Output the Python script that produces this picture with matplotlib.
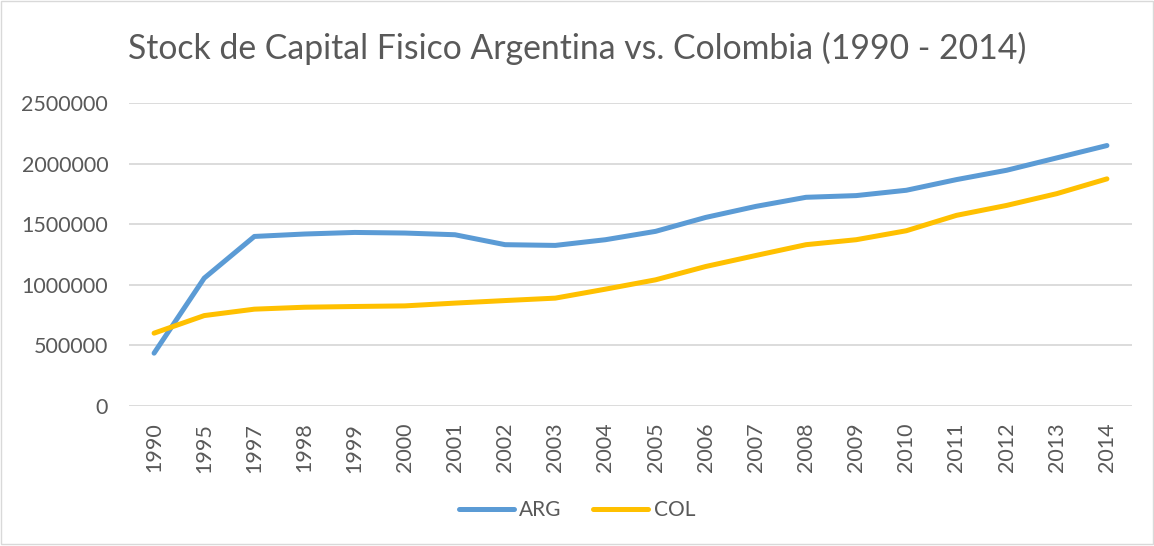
import matplotlib.pyplot as plt
from matplotlib.patches import Rectangle

# Data
years = ['1990', '1995', '1997', '1998', '1999', '2000', '2001', '2002', '2003', '2004',
         '2005', '2006', '2007', '2008', '2009', '2010', '2011', '2012', '2013', '2014']
arg = [436000, 1055000, 1399000, 1419000, 1432000, 1427000, 1413000, 1331000, 1325000, 1372000,
       1441000, 1556000, 1647000, 1722000, 1736000, 1780000, 1868000, 1945000, 2047000, 2149000]
col = [601000, 746000, 799000, 815000, 821000, 826000, 849000, 870000, 890000, 964000,
       1041000, 1151000, 1242000, 1331000, 1372000, 1446000, 1573000, 1655000, 1752000, 1874000]
yticks = [0, 500000, 1000000, 1500000, 2000000, 2500000]

plt.rcParams['font.family'] = ['Lato', 'DejaVu Sans']
text_color = '#595959'

fig = plt.figure(figsize=(11.54, 5.46), dpi=100)
ax = fig.add_axes([129 / 1154, 1 - 406 / 546, (1132 - 129) / 1154, (406 - 103) / 546])

x = range(len(years))
ax.plot(x, arg, color='#5B9BD5', linewidth=3.6, solid_capstyle='round', label='ARG')
ax.plot(x, col, color='#FFC000', linewidth=3.6, solid_capstyle='round', label='COL')

ax.set_xlim(-0.5, len(years) - 0.5)
ax.set_ylim(0, 2500000)
ax.set_yticks(yticks)
ax.set_yticklabels([str(v) for v in yticks])
ax.set_xticks(list(x))
ax.set_xticklabels(years, rotation=90)
ax.tick_params(axis='both', length=0, labelsize=15.5, colors=text_color)
ax.tick_params(axis='y', pad=15)
ax.tick_params(axis='x', pad=12)
ax.grid(axis='y', color='#D9D9D9', linewidth=1.3)
ax.set_axisbelow(True)
for s in ax.spines.values():
    s.set_visible(False)

fig.text(0.5, 1 - 48 / 546, 'Stock de Capital Fisico Argentina vs. Colombia (1990 - 2014)',
         ha='center', va='center', fontsize=24.3, color=text_color)

fig.legend(loc='center', bbox_to_anchor=(0.5, 1 - 510 / 546), ncol=2, frameon=False,
           fontsize=15, labelcolor=text_color, handlelength=2.65, columnspacing=1.5,
           handletextpad=0.25)

fig.add_artist(Rectangle((0.001, 0.003), 0.998, 0.995, transform=fig.transFigure,
                         fill=False, edgecolor='#D9D9D9', linewidth=1))

fig.savefig('out.png', dpi=100)
